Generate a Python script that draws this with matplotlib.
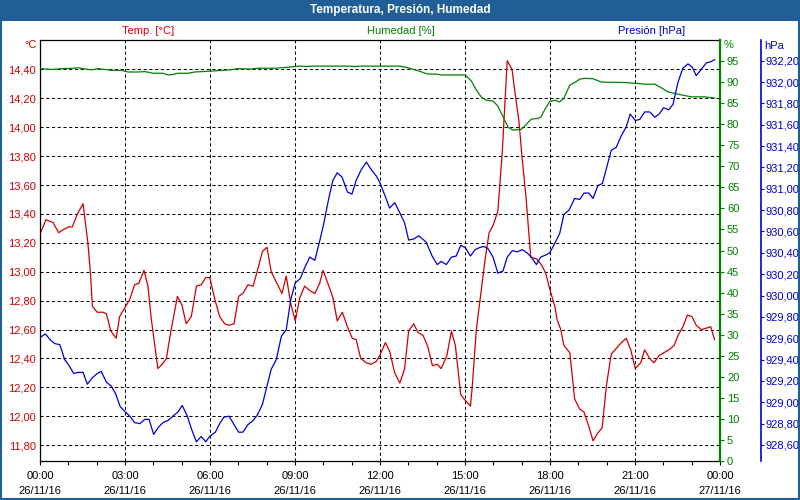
import matplotlib
matplotlib.use('Agg')
import matplotlib.pyplot as plt
from matplotlib.patches import Rectangle
from matplotlib.ticker import FuncFormatter, MultipleLocator
import numpy as np

# Temperatura [°C] (horas desde 26/11/16 00:00)
t_hours = [0.02, 0.21, 0.46, 0.66, 0.81, 1.01, 1.14, 1.32, 1.52, 1.69, 1.78, 1.85, 2.02, 2.22, 2.34,
           2.50, 2.69, 2.81, 2.96, 3.17, 3.34, 3.49, 3.67, 3.81, 3.93, 4.16, 4.31, 4.46, 4.63, 4.85,
           5.01, 5.16, 5.34, 5.52, 5.69, 5.85, 5.99,
           6.17, 6.34, 6.52, 6.66, 6.85, 7.01, 7.16, 7.34, 7.52, 7.69, 7.85, 8.01, 8.16, 8.36, 8.54,
           8.69, 8.85, 9.01, 9.17, 9.34, 9.52, 9.70, 9.87, 9.99, 10.16, 10.34, 10.49, 10.67, 10.85,
           11.02, 11.16, 11.32, 11.52, 11.69, 11.87, 11.99,
           12.19, 12.34, 12.52, 12.70, 12.87, 13.01, 13.19, 13.34, 13.52, 13.69, 13.85, 14.02, 14.16,
           14.36, 14.52, 14.66, 14.75, 14.85, 15.01, 15.19, 15.25, 15.40, 15.54, 15.70, 15.85, 15.99,
           16.16, 16.31, 16.40, 16.49, 16.66, 16.75, 16.90, 17.01, 17.16, 17.32, 17.52, 17.69, 17.85,
           17.99,
           18.17, 18.25, 18.38, 18.49, 18.70, 18.87, 19.05, 19.20, 19.37, 19.52, 19.67, 19.84, 19.99,
           20.16, 20.34, 20.52, 20.69, 20.85, 21.01, 21.20, 21.34, 21.52, 21.67, 21.85, 22.02, 22.20,
           22.38, 22.52, 22.69, 22.85, 23.01, 23.16, 23.34, 23.52, 23.67, 23.81]
temp = [13.27, 13.36, 13.34, 13.27, 13.29, 13.31, 13.31, 13.40, 13.47, 13.20, 12.99, 12.76, 12.72, 12.72, 12.71,
        12.59, 12.54, 12.69, 12.74, 12.81, 12.91, 12.92, 13.01, 12.90, 12.67, 12.33, 12.36, 12.40, 12.60, 12.83,
        12.77, 12.64, 12.69, 12.90, 12.91, 12.96, 12.96,
        12.81, 12.69, 12.64, 12.63, 12.64, 12.83, 12.85, 12.91, 12.90, 13.02, 13.14, 13.17, 13.00, 12.92, 12.85,
        12.97, 12.78, 12.66, 12.82, 12.90, 12.87, 12.85, 12.92, 13.01, 12.92, 12.82, 12.66, 12.72, 12.62,
        12.54, 12.53, 12.40, 12.37, 12.36, 12.38, 12.42,
        12.51, 12.45, 12.30, 12.23, 12.33, 12.59, 12.64, 12.58, 12.56, 12.48, 12.35, 12.36, 12.33,
        12.42, 12.59, 12.49, 12.33, 12.15, 12.11, 12.07, 12.19, 12.60, 12.82, 13.07, 13.27, 13.32,
        13.42, 13.81, 14.14, 14.46, 14.40, 14.26, 14.05, 13.80, 13.50, 13.10, 13.09, 13.05, 12.99,
        12.88,
        12.76, 12.67, 12.60, 12.49, 12.44, 12.12, 12.05, 12.03, 11.93, 11.83, 11.88, 11.92, 12.21,
        12.43, 12.47, 12.51, 12.54, 12.46, 12.33, 12.37, 12.46, 12.40, 12.37, 12.42, 12.44, 12.46,
        12.49, 12.56, 12.62, 12.70, 12.69, 12.63, 12.60, 12.61, 12.62, 12.53]

# Presión [hPa]
p_hours = [0.02, 0.19, 0.38, 0.52, 0.70, 0.87, 1.01, 1.19, 1.34, 1.52, 1.67, 1.85, 2.02, 2.16, 2.34, 2.52,
           2.67, 2.83, 3.01, 3.17, 3.34, 3.52, 3.70, 3.85, 4.01, 4.19, 4.34, 4.52, 4.69, 4.87, 5.02, 5.20,
           5.36, 5.52, 5.69, 5.85, 5.99,
           6.19, 6.34, 6.49, 6.67, 6.85, 7.01, 7.16, 7.34, 7.52, 7.67, 7.85, 8.01, 8.16, 8.34, 8.52, 8.69,
           8.85, 9.01, 9.19, 9.34, 9.52, 9.70, 9.87, 10.02, 10.19, 10.34, 10.49, 10.66, 10.85, 11.01, 11.16,
           11.34, 11.52, 11.69, 11.87, 11.99,
           12.17, 12.34, 12.52, 12.69, 12.87, 13.01, 13.19, 13.37, 13.63, 13.84, 14.02, 14.16, 14.34, 14.52,
           14.69, 14.85, 15.01, 15.19, 15.36, 15.52, 15.67, 15.81, 15.99, 16.16, 16.34, 16.49, 16.67, 16.85,
           17.02, 17.19, 17.34, 17.52, 17.67, 17.85, 17.99,
           18.17, 18.34, 18.49, 18.67, 18.87, 19.05, 19.20, 19.37, 19.52, 19.69, 19.85, 20.02, 20.16, 20.34,
           20.52, 20.69, 20.83, 21.01, 21.17, 21.34, 21.52, 21.70, 21.85, 22.01, 22.19, 22.34, 22.52, 22.69,
           22.87, 23.02, 23.16, 23.34, 23.52, 23.67, 23.81]
pres = [929.61, 929.64, 929.58, 929.55, 929.54, 929.40, 929.35, 929.27, 929.28, 929.28, 929.17, 929.23,
        929.27, 929.29, 929.19, 929.15, 929.08, 928.96, 928.91, 928.87, 928.81, 928.80, 928.84, 928.84,
        928.70, 928.77, 928.81, 928.83, 928.87, 928.91, 928.97, 928.87, 928.74, 928.63, 928.68, 928.63, 928.68,
        928.72, 928.80, 928.86, 928.87, 928.79, 928.72, 928.72, 928.79, 928.83, 928.88, 928.98, 929.15,
        929.31, 929.40, 929.62, 929.68, 929.96, 930.12, 930.16, 930.26, 930.36, 930.33, 930.51, 930.68,
        930.91, 931.08, 931.15, 931.11, 930.97, 930.95, 931.08, 931.18, 931.25, 931.18, 931.12, 931.06,
        930.94, 930.82, 930.87, 930.78, 930.68, 930.52, 930.53, 930.56, 930.50, 930.37, 930.29, 930.32,
        930.29, 930.36, 930.37, 930.47, 930.45, 930.37, 930.43, 930.45, 930.46, 930.44, 930.36, 930.21,
        930.23, 930.36, 930.42, 930.41, 930.43, 930.40, 930.36, 930.29, 930.36, 930.38, 930.40,
        930.49, 930.58, 930.76, 930.80, 930.91, 930.90, 930.96, 930.96, 930.91, 931.03, 931.05, 931.22,
        931.36, 931.39, 931.50, 931.58, 931.70, 931.64, 931.65, 931.72, 931.72, 931.67, 931.70, 931.76,
        931.74, 931.79, 932.00, 932.13, 932.17, 932.14, 932.06, 932.12, 932.18, 932.19, 932.21]

# Humedad [%]
h_hours = [0.02, 0.40, 0.81, 1.16, 1.34, 1.52, 1.81, 2.05, 2.28, 2.52, 2.87, 3.11, 3.46, 3.70, 3.99, 4.34,
           4.52, 4.69, 4.85, 5.22, 5.46, 5.99, 6.70, 6.99, 7.40, 7.69, 8.28, 8.52, 9.01, 9.17, 9.40, 9.64,
           10.87, 11.11, 11.34, 12.70, 12.99, 13.34, 13.69, 13.99, 14.16, 15.01, 15.22, 15.40, 15.58, 15.75,
           15.99, 16.16, 16.34, 16.52, 16.69, 16.99, 17.11, 17.34, 17.58, 17.69, 17.81, 17.99, 18.17, 18.34,
           18.49, 18.70, 18.87, 19.05, 19.22, 19.52, 19.81, 20.64, 21.05, 21.34, 21.70, 21.99, 22.16, 22.46,
           22.69, 22.99, 23.46, 23.81]
hum = [93.2, 93.0, 93.2, 93.3, 93.4, 93.2, 92.9, 93.2, 93.0, 92.8, 92.8, 92.4, 92.4, 92.5, 92.1, 92.1,
       91.7, 91.8, 92.1, 92.1, 92.4, 92.6, 92.9, 93.2, 93.1, 93.3, 93.3, 93.4, 93.7, 93.8, 93.7, 93.8,
       93.8, 93.7, 93.8, 93.8, 93.4, 92.7, 91.9, 91.9, 91.7, 91.7, 90.3, 88.1, 86.4, 85.7,
       85.5, 84.3, 81.8, 79.3, 78.6, 78.8, 79.6, 81.2, 81.4, 81.8, 83.4, 85.4, 85.7, 85.3,
       86.2, 89.3, 89.9, 90.7, 90.9, 90.8, 90.0, 89.9, 89.7, 89.5, 89.5, 88.4, 87.7, 87.2,
       86.9, 86.5, 86.5, 86.2]

x_ticks = [0, 3, 6, 9, 12, 15, 18, 21, 24]
x_labels = ['00:00\n26/11/16', '03:00\n26/11/16', '06:00\n26/11/16', '09:00\n26/11/16',
            '12:00\n26/11/16', '15:00\n26/11/16', '18:00\n26/11/16', '21:00\n26/11/16',
            '00:00\n27/11/16']
t_ticks = np.arange(11.8, 14.41, 0.2)
h_ticks = np.arange(0, 96, 5)
p_ticks = np.arange(928.6, 932.21, 0.2)

RED = '#d00000'
GREEN = '#008000'
BLUE = '#0000d0'
FRAME = '#1f5e96'

W, H = 800, 500
plt.rcParams['font.family'] = ['Liberation Sans', 'DejaVu Sans']
plt.rcParams['font.size'] = 8

fig = plt.figure(figsize=(W / 100, H / 100), dpi=100)

# marco de ventana y barra de titulo
fig.patches.append(Rectangle((0, 1 - 21 / H), 1, 21 / H, transform=fig.transFigure,
                             facecolor=FRAME, edgecolor='none', zorder=0))
fig.patches.append(Rectangle((0.8 / W, 0.8 / H), 1 - 1.6 / W, 1 - 1.6 / H, transform=fig.transFigure,
                             facecolor='none', edgecolor=FRAME, lw=1.5, zorder=0))
fig.text(0.5, 1 - 10.5 / H, 'Temperatura, Presión, Humedad', color='white', weight='bold',
         ha='center', va='center', size=8.5)
fig.text(148 / W, 1 - 31 / H, 'Temp. [°C]', color=RED, ha='center', va='center')
fig.text(401 / W, 1 - 31 / H, 'Humedad [%]', color=GREEN, ha='center', va='center')
fig.text(652 / W, 1 - 31 / H, 'Presión [hPa]', color=BLUE, ha='center', va='center')
fig.text(37 / W, 1 - 45 / H, '°C', color=RED, ha='right', va='center')
fig.text(724 / W, 1 - 45 / H, '%', color=GREEN, ha='left', va='center')
fig.text(764 / W, 1 - 46 / H, 'hPa', color=BLUE, ha='left', va='center')

ax = fig.add_axes([40 / W, 1 - 461 / H, 680 / W, 421 / H])
ax_h = ax.twinx()
ax_p = ax.twinx()

dash = (0, (3, 2.5))
comma = lambda v, pos: ('%.2f' % v).replace('.', ',')

# temperatura
ax.plot(t_hours, temp, color=RED, lw=0.9)
ax.set_xlim(0, 24)
ax.set_ylim(11.691, 14.603)
ax.set_yticks(t_ticks)
ax.yaxis.set_major_formatter(FuncFormatter(comma))
ax.set_xticks(x_ticks)
ax.set_xticklabels(x_labels, linespacing=1.6)
ax.xaxis.set_minor_locator(MultipleLocator(1))
ax.tick_params(axis='x', which='both', direction='out', length=3, width=0.8, pad=4)
ax.tick_params(axis='y', length=0, pad=3, labelcolor=RED)
ax.grid(True, ls=dash, color='black', lw=0.75)
for s in ['left', 'top', 'bottom']:
    ax.spines[s].set_linewidth(0.9)
ax.spines['right'].set_visible(False)

# humedad
ax_h.plot(h_hours, hum, color=GREEN, lw=0.9)
ax_h.set_ylim(0, 100)
ax_h.set_yticks(h_ticks)
ax_h.tick_params(axis='y', direction='out', length=3, color=GREEN, labelcolor=GREEN, pad=2)
ax_h.spines['right'].set_color(GREEN)
ax_h.spines['right'].set_linewidth(1.6)
for s in ['left', 'top', 'bottom']:
    ax_h.spines[s].set_visible(False)

# presion
ax_p.plot(p_hours, pres, color=BLUE, lw=0.9)
ax_p.set_ylim(928.45, 932.394)
ax_p.set_yticks(p_ticks)
ax_p.yaxis.set_major_formatter(FuncFormatter(comma))
ax_p.spines['right'].set_position(('axes', (761 - 40) / 680))
ax_p.spines['right'].set_color(BLUE)
ax_p.spines['right'].set_linewidth(1.2)
ax_p.tick_params(axis='y', direction='out', length=2, color=BLUE, labelcolor=BLUE, pad=1.5)
for s in ['left', 'top', 'bottom']:
    ax_p.spines[s].set_visible(False)

plt.savefig('out.png', dpi=100)
